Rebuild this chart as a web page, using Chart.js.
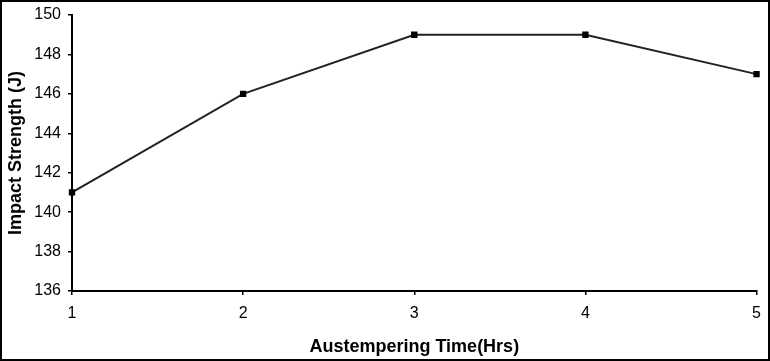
<!DOCTYPE html>
<html>
<head>
<meta charset="utf-8">
<script src="https://cdn.jsdelivr.net/npm/chart.js@4/dist/chart.umd.min.js"></script>
<style>
  html, body { margin: 0; padding: 0; background: #fff; }
  #wrap { width: 770px; height: 361px; position: relative; }
</style>
</head>
<body>
<div id="wrap"><canvas id="impactChart" width="770" height="361"></canvas></div>
<script>
const hours = ['1', '2', '3', '4', '5'];
const impactStrength = [141, 146, 149, 149, 147];
const yTicks = [136, 138, 140, 142, 144, 146, 148, 150];

// outer frame around the whole picture
const frame = {
    id: 'frame',
    afterDraw(chart) {
        const ctx = chart.ctx;
        ctx.save();
        ctx.strokeStyle = '#000';
        ctx.lineWidth = 2;
        ctx.strokeRect(1, 1, chart.width - 2, chart.height - 2);
        ctx.restore();
    }
};

const ctx = document.getElementById('impactChart').getContext('2d');
new Chart(ctx, {
    type: 'line',
    data: {
        labels: hours,
        datasets: [{
            data: impactStrength,
            borderColor: '#222',
            borderWidth: 2,
            backgroundColor: '#000',
            pointStyle: 'rect',
            pointRadius: 4.5,
            pointBorderWidth: 0,
            tension: 0,
            fill: false
        }]
    },
    options: {
        responsive: false,
        animation: false,
        layout: { padding: { top: 14, right: 13, bottom: 0, left: 0 } },
        plugins: { legend: { display: false }, tooltip: { enabled: false } },
        scales: {
            x: {
                type: 'category',
                offset: false,
                grid: { display: true, drawOnChartArea: false, drawTicks: true, tickLength: 4, color: '#000', lineWidth: 1.5 },
                border: { display: true, color: '#000', width: 2 },
                ticks: { color: '#000', padding: 9, font: { family: 'Liberation Sans', size: 16 } },
                title: {
                    display: true,
                    text: 'Austempering Time(Hrs)',
                    color: '#000',
                    font: { family: 'Liberation Sans', size: 18, weight: 'bold' },
                    padding: { top: 4, bottom: 3 }
                },
                afterFit(scale) { scale.height = 70; }
            },
            y: {
                min: 136,
                max: 150,
                afterBuildTicks(scale) { scale.ticks = yTicks.map(v => ({ value: v })); },
                grid: { display: true, drawOnChartArea: false, drawTicks: true, tickLength: 4, color: '#000', lineWidth: 1.5 },
                border: { display: true, color: '#000', width: 2 },
                ticks: { color: '#000', padding: 7, font: { family: 'Liberation Sans', size: 16, lineHeight: 1 } },
                title: {
                    display: true,
                    text: 'Impact Strength (J)',
                    color: '#000',
                    font: { family: 'Liberation Sans', size: 18, weight: 'bold' },
                    padding: { top: 5, bottom: 4 }
                },
                afterFit(scale) { scale.width = 72; }
            }
        }
    },
    plugins: [frame]
});
</script>
</body>
</html>
